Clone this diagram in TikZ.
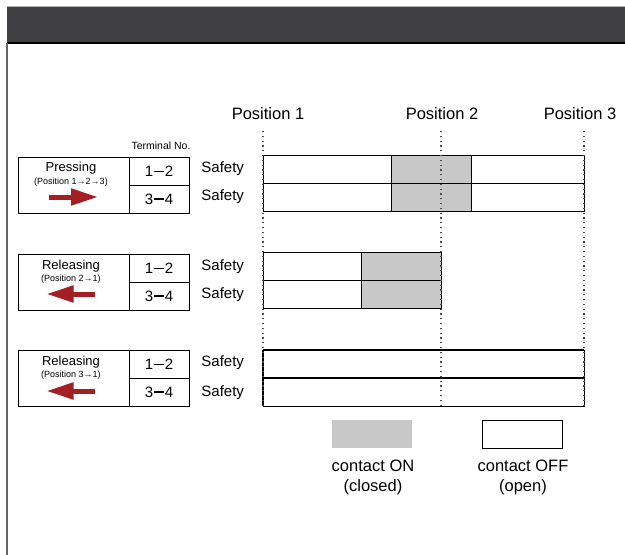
\documentclass[tikz,border=0pt]{standalone}
\usepackage{fontspec}
\setmainfont{Liberation Sans}
\usetikzlibrary{positioning, arrows.meta}
\definecolor{headbar}{HTML}{404042}
\definecolor{onfill}{HTML}{C8C8C8}
\definecolor{arrowred}{HTML}{A31F24}
\definecolor{guide}{HTML}{4A4A4A}
\newcommand{\pxsize}[2]{\fontsize{#1}{#2}\selectfont}
\newcommand{\termpair}[2]{#1\kern1pt\rule[4.5pt]{9.5pt}{1.2pt}\kern1pt#2}

\begin{document}
\begin{tikzpicture}[x=1pt, y=-1pt, line width=0.9pt,
  modebox/.style={draw, minimum width=111pt, minimum height=56pt, inner sep=0pt},
  cell/.style={draw, minimum width=60pt, minimum height=28pt, inner sep=0pt, font=\pxsize{15}{17}},
  poslabel/.style={font=\pxsize{16.5}{19}, inner sep=0pt},
  safety/.style={font=\pxsize{15}{17}, anchor=west, inner sep=0pt},
  modetitle/.style={font=\pxsize{13}{15}, inner sep=0pt},
  modesub/.style={font=\pxsize{9}{11}, inner sep=0pt},
  redarrow/.style={arrowred, line width=5pt, -{Triangle[length=27pt, width=16pt]}},
  guideline/.style={guide, line width=1.2pt, dash pattern=on 1.2pt off 3.6pt},
  keytext/.style={font=\pxsize{16.5}{20}, align=center, inner sep=0pt}
]
  \useasboundingbox (0,0) rectangle (625,555);

  % page frame
  \fill[headbar] (7,6) rectangle (625,43);
  \draw[gray!60, line width=1.2pt] (7,6.6) -- (625,6.6);
  \draw[black, line width=1.2pt] (7,43) -- (625,43);
  \draw[gray!80!black, line width=1.5pt] (7,43) -- (7,555);

  % positions
  \node[poslabel] (pos1) at (268,114) {Position 1};
  \node[poslabel] (pos2) at (442,114) {Position 2};
  \node[poslabel] (pos3) at (580,114) {Position 3};

  \node[font=\pxsize{10.5}{12}, inner sep=0pt] (term) at (161,146) {Terminal No.};

  % pressing
  \node[modebox] (press) at (73.5,185) {};
  \node[cell] (press12) at (159,171) {\termpair{1}{2}};
  \node[cell] (press34) at (159,199) {\termpair{3}{4}};
  \node[modetitle] (presst) at (71,168.5) {Pressing};
  \node[modesub] (presss) at (71,182) {(Position 1→2→3)};
  \coordinate (pressa) at (49,197);
  \coordinate (pressb) at (98,197);
  \draw[redarrow] (pressa) -- (pressb);
  \node[safety] (saf1) at (201,169) {Safety};
  \node[safety] (saf2) at (201,197) {Safety};

  % releasing 2 -> 1
  \node[modebox] (rel2) at (73.5,282) {};
  \node[cell] (rel212) at (159,268) {\termpair{1}{2}};
  \node[cell] (rel234) at (159,296) {\termpair{3}{4}};
  \node[modetitle] (rel2t) at (71,266) {Releasing};
  \node[modesub] (rel2s) at (71,279) {(Position 2→1)};
  \coordinate (rel2a) at (95,294);
  \coordinate (rel2b) at (46.5,294);
  \draw[redarrow] (rel2a) -- (rel2b);
  \node[safety] (saf3) at (201,267) {Safety};
  \node[safety] (saf4) at (201,295) {Safety};

  % releasing 3 -> 1
  \node[modebox] (rel3) at (73.5,378) {};
  \node[cell] (rel312) at (159,364) {\termpair{1}{2}};
  \node[cell] (rel334) at (159,392) {\termpair{3}{4}};
  \node[modetitle] (rel3t) at (71,362) {Releasing};
  \node[modesub] (rel3s) at (71,375) {(Position 3→1)};
  \coordinate (rel3a) at (95,391);
  \coordinate (rel3b) at (46.5,391);
  \draw[redarrow] (rel3a) -- (rel3b);
  \node[safety] (saf5) at (201,363) {Safety};
  \node[safety] (saf6) at (201,393) {Safety};

  % timing bars
  \foreach \y in {155,183} {
    \draw (263,\y) rectangle (391,{\y+28});
    \filldraw[fill=onfill] (391,\y) rectangle (471,{\y+28});
    \draw (471,\y) rectangle (584,{\y+28});
  }
  \foreach \y in {252.5,280.5} {
    \draw (263,\y) rectangle (361,{\y+28});
    \filldraw[fill=onfill] (361,\y) rectangle (441,{\y+28});
  }
  \draw (263,350) rectangle (584,406);
  \draw[line width=1.6pt] (263,350) -- (584,350);
  \draw[line width=1.6pt] (263,378) -- (584,378);
  \draw[line width=1.4pt] (263,350) -- (263,406);

  % guide lines
  \draw[guideline] (263,131) -- (263,406);
  \draw[guideline] (441,131) -- (441,406);
  \draw[guideline] (584,131) -- (584,406);

  % key
  \node[fill=onfill, minimum width=80pt, minimum height=28pt, inner sep=0pt] (onkey) at (372,434) {};
  \node[draw, minimum width=80pt, minimum height=28pt, inner sep=0pt] (offkey) at (522.5,434) {};
  \node[keytext] (ontext) at (373,477) {contact ON\\(closed)};
  \node[keytext] (offtext) at (523,477) {contact OFF\\(open)};
\end{tikzpicture}
\end{document}
